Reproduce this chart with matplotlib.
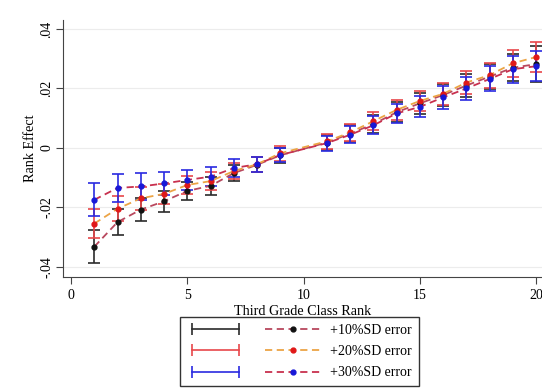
import matplotlib
matplotlib.use('Agg')
import matplotlib.pyplot as plt
from matplotlib.lines import Line2D
from matplotlib.legend_handler import HandlerLine2D

plt.rcParams['font.family'] = ['Liberation Serif', 'DejaVu Serif']

# third grade class rank (rank 10 is the omitted reference)
rank = [1, 2, 3, 4, 5, 6, 7, 8, 9, 11, 12, 13, 14, 15, 16, 17, 18, 19, 20]

eff_10 = [-0.0333, -0.0250, -0.0208, -0.0180, -0.0145, -0.0128, -0.0085, -0.0057, -0.0025,
          0.0018, 0.0048, 0.0080, 0.0120, 0.0150, 0.0178, 0.0210, 0.0240, 0.0270, 0.0282]
eff_20 = [-0.0255, -0.0205, -0.0170, -0.0155, -0.0125, -0.0112, -0.0078, -0.0055, -0.0018,
          0.0022, 0.0052, 0.0090, 0.0128, 0.0158, 0.0182, 0.0220, 0.0245, 0.0285, 0.0306]
eff_30 = [-0.0175, -0.0135, -0.0130, -0.0120, -0.0108, -0.0097, -0.0068, -0.0055, -0.0024,
          0.0016, 0.0044, 0.0076, 0.0116, 0.0138, 0.0170, 0.0200, 0.0232, 0.0265, 0.0275]

err_10 = [0.0055, 0.0045, 0.0038, 0.0035, 0.0030, 0.0030, 0.0028, 0.0025, 0.0025, 0.0025,
          0.0028, 0.0030, 0.0033, 0.0035, 0.0038, 0.0040, 0.0042, 0.0045, 0.0060]
err_20 = [0.0048, 0.0042, 0.0038, 0.0033, 0.0030, 0.0030, 0.0028, 0.0025, 0.0025, 0.0025,
          0.0028, 0.0030, 0.0033, 0.0035, 0.0038, 0.0040, 0.0042, 0.0045, 0.0050]
err_30 = [0.0055, 0.0048, 0.0045, 0.0040, 0.0035, 0.0032, 0.0030, 0.0025, 0.0025, 0.0025,
          0.0028, 0.0030, 0.0033, 0.0035, 0.0038, 0.0040, 0.0042, 0.0045, 0.0050]

labels = ['+10%SD error', '+20%SD error', '+30%SD error']
bar_colors = ['#2b2b2b', '#e8474a', '#2a2ae0']
line_colors = ['#b8485e', '#eca445', '#c8304e']
dot_colors = ['#111111', '#e01818', '#1818d8']

fig = plt.figure(figsize=(5.42, 3.88), dpi=100)
ax = fig.add_axes([0.116, 0.286, 0.884, 0.662])

series = [(eff_10, err_10), (eff_20, err_20), (eff_30, err_30)]
for i, (y, e) in enumerate(series):
    ax.errorbar(rank, y, yerr=e, fmt='none', ecolor=bar_colors[i], elinewidth=1.2,
                capsize=4, capthick=1.2, zorder=2 + i)
for i, (y, e) in enumerate(series):
    ax.plot(rank, y, ls=(0, (4, 2.5)), lw=1.3, color=line_colors[i], marker='o', ms=3.5,
            mfc=dot_colors[i], mec=dot_colors[i], zorder=5 + i)

ax.set_xlim(-0.35, 20.25)
ax.set_ylim(-0.0435, 0.043)
ax.set_xticks([0, 5, 10, 15, 20])
ax.set_yticks([-0.04, -0.02, 0, 0.02, 0.04])
ax.set_yticklabels(['-.04', '-.02', '0', '.02', '.04'], rotation=90, va='center')
ax.tick_params(labelsize=10, length=5, color='#444444')
ax.tick_params(axis='y', pad=2)
ax.grid(axis='y', color='#ececec', lw=0.8)
ax.set_axisbelow(True)
for s in ['top', 'right']:
    ax.spines[s].set_visible(False)
for s in ['left', 'bottom']:
    ax.spines[s].set_color('#444444')
ax.set_xlabel('Third Grade Class Rank', fontsize=10.2, labelpad=2)
ax.set_ylabel('Rank Effect', fontsize=10.2, labelpad=2)

err_h = [Line2D([], [], color=c, lw=1.2, marker='|', ms=8, mew=1.2) for c in bar_colors]
line_h = [Line2D([], [], color=lc, ls=(0, (4, 2.5)), lw=1.3, marker='o', ms=3.5, mfc=dc, mec=dc)
          for lc, dc in zip(line_colors, dot_colors)]
hmap = {h: HandlerLine2D(numpoints=2) for h in err_h}
hmap.update({h: HandlerLine2D(numpoints=1) for h in line_h})
leg = fig.legend(err_h + line_h, ['', '', ''] + labels, ncol=2, handler_map=hmap,
                 loc='center', bbox_to_anchor=(0.553, 0.094), fontsize=10,
                 handlelength=4.0, handletextpad=0.7, columnspacing=0.9, labelspacing=0.6,
                 fancybox=False, framealpha=1, edgecolor='#333333', borderpad=0.5)
leg.get_frame().set_linewidth(1.0)

fig.savefig('out.png', dpi=100)
